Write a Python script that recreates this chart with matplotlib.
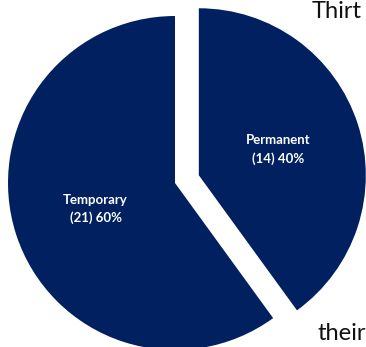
import matplotlib
matplotlib.use("Agg")
import matplotlib.pyplot as plt

# Contract type split
categories = ["Permanent", "Temporary"]
counts = [14, 21]
total = sum(counts)
labels = [f"{c}\n({n}) {round(100 * n / total)}%" for c, n in zip(categories, counts)]

W, H = 366, 347
fig = plt.figure(figsize=(W / 100, H / 100), dpi=100)
ax = fig.add_axes([0, 0, 1, 1])

navy = "#002060"
radius = 167
ax.pie(
    counts,
    labels=labels,
    colors=[navy, navy],
    startangle=90,
    counterclock=False,
    explode=[0.15 * radius, 0],  # offset in data units
    radius=radius,
    center=(175, 164),
    labeldistance=0.5,
    textprops=dict(color="white", fontsize=9.5, fontweight="bold",
                   family=["Lato", "DejaVu Sans"], ha="center", va="center",
                   linespacing=1.55),
    wedgeprops=dict(linewidth=0),
    frame=True,
)
ax.set_xlim(0, W)
ax.set_ylim(0, H)
ax.set_aspect("equal")
ax.axis("off")

# Surrounding document text
body = dict(fontsize=17, color="#111111", family=["Lato", "DejaVu Sans"],
            clip_on=False)
fig.text(312 / W, 1 - 18 / H, "Thirt", ha="left", va="baseline", **body)
fig.text(364 / W, 1 - 305 / H, "In", ha="left", va="baseline", **body)
fig.text(318 / W, 1 - 340 / H, "their", ha="left", va="baseline", **body)

fig.savefig("out.png", dpi=100)
